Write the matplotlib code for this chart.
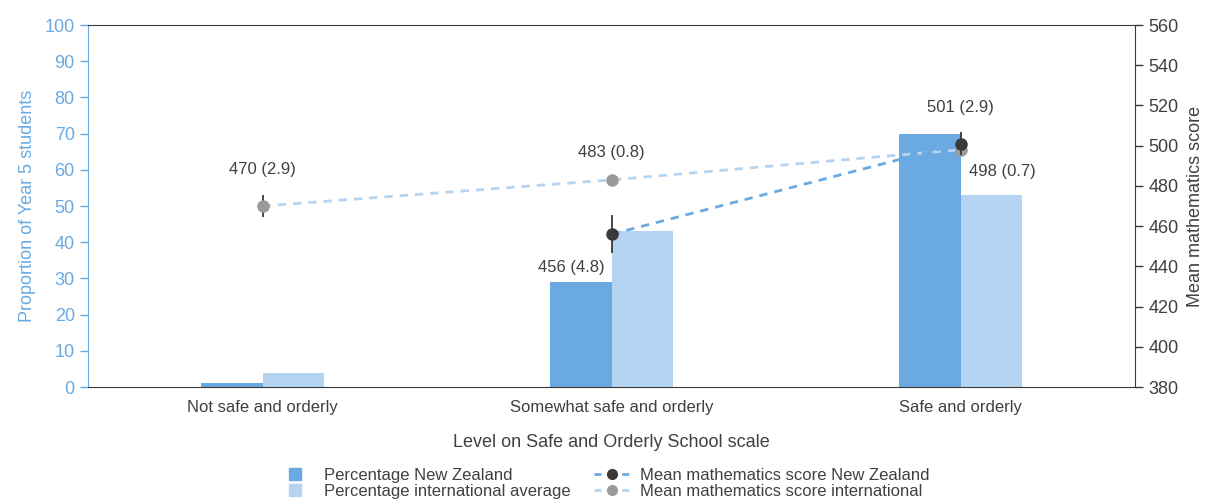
import matplotlib.pyplot as plt
import numpy as np
from matplotlib.lines import Line2D

plt.rcParams['font.family'] = ['Liberation Sans', 'DejaVu Sans']

categories = ["Not safe and orderly", "Somewhat safe and orderly", "Safe and orderly"]
pct_nz = [1.1, 29, 70]
pct_int = [3.9, 43, 53]
score_nz = [np.nan, 456, 501]
se_nz = [np.nan, 4.8, 2.9]
score_int = [470, 483, 498]
se_int = [2.9, 0.8, 0.7]

blue = "#6aa9e2"
light = "#b5d4f1"
dark = "#3a3a3a"
grey = "#9a9a9a"
text_c = "#404040"

fig = plt.figure(figsize=(12.16, 5.03), dpi=100)
ax = fig.add_axes([0.0724, 0.2306, 0.861, 0.7196])
ax2 = ax.twinx()

x = np.arange(len(categories))
w = 0.175
ax.bar(x - w / 2, pct_nz, w, color=blue, zorder=2)
ax.bar(x + w / 2, pct_int, w, color=light, zorder=2)

ax.set_xlim(-0.5, 2.5)
ax.set_ylim(0, 100)
ax.set_yticks(range(0, 101, 10))
ax.set_xticks(x)
ax.set_xticklabels(categories, fontsize=12, color=text_c)
ax.tick_params(axis='x', length=0, pad=9)
ax.tick_params(axis='y', colors=blue, labelsize=13, length=6, width=1)
ax.set_ylabel("Proportion of Year 5 students", color=blue, fontsize=13, labelpad=6)
ax.set_xlabel("Level on Safe and Orderly School scale", color=text_c, fontsize=13, labelpad=14)

for s in ['top', 'bottom']:
    ax.spines[s].set_color(dark)
ax.spines['left'].set_color(blue)
ax.spines['right'].set_visible(False)
for s in ['top', 'bottom', 'left']:
    ax2.spines[s].set_visible(False)
ax2.spines['right'].set_color(dark)

# mean scores, error bars are 1.96 x standard error
ci_int = 1.96 * np.array(se_int)
ci_nz = 1.96 * np.array(se_nz)
ax2.plot(x, score_int, ls='--', color=light, lw=2, dashes=(3, 2.5), zorder=3)
ax2.errorbar(x, score_int, yerr=ci_int, fmt='o', color=grey, ecolor=dark,
             elinewidth=1.3, ms=8, capsize=0, zorder=4)
ax2.plot(x, score_nz, ls='--', color=blue, lw=2, dashes=(3, 2.5), zorder=5)
ax2.errorbar(x, score_nz, yerr=ci_nz, fmt='o', color=dark, ecolor=dark,
             elinewidth=1.3, ms=8, capsize=0, zorder=6)

ax2.set_ylim(380, 560)
ax2.set_yticks(range(380, 561, 20))
ax2.tick_params(axis='y', colors=dark, labelcolor=text_c, labelsize=13, length=6, width=1)
ax2.set_ylabel("Mean mathematics score", color=text_c, fontsize=13, labelpad=6)

# value labels: score (standard error)
int_offsets = [(0, 26), (0, 20), (30, -16)]
nz_offsets = [None, (-29, -24), (0, 26)]
for i in range(len(categories)):
    ax2.annotate(f"{score_int[i]} ({se_int[i]})", (x[i], score_int[i]),
                 xytext=int_offsets[i], textcoords='offset points',
                 ha='center', va='center', fontsize=12, color=text_c)
    if not np.isnan(score_nz[i]):
        ax2.annotate(f"{score_nz[i]:.0f} ({se_nz[i]})", (x[i], score_nz[i]),
                     xytext=nz_offsets[i], textcoords='offset points',
                     ha='center', va='center', fontsize=12, color=text_c)

handles = [
    Line2D([], [], ls='none', marker='s', ms=8, color=blue),
    Line2D([], [], ls='none', marker='s', ms=8, color=light),
    Line2D([], [], ls='--', dashes=(2.5, 2.5), lw=2, marker='o', ms=7, color=blue,
           markerfacecolor=dark, markeredgecolor=dark),
    Line2D([], [], ls='--', dashes=(2.5, 2.5), lw=2, marker='o', ms=7, color=light,
           markerfacecolor=grey, markeredgecolor=grey),
]
labels = ["Percentage New Zealand", "Percentage international average",
          "Mean mathematics score New Zealand", "Mean mathematics score international"]
leg = fig.legend(handles, labels, ncol=2, loc='upper left', bbox_to_anchor=(0.221, 0.087),
                 frameon=False, fontsize=12, handlelength=2.2, columnspacing=1.4,
                 labelspacing=0.08, borderpad=0, handletextpad=0.6)
for t in leg.get_texts():
    t.set_color(text_c)

fig.savefig("out.png", dpi=100)
